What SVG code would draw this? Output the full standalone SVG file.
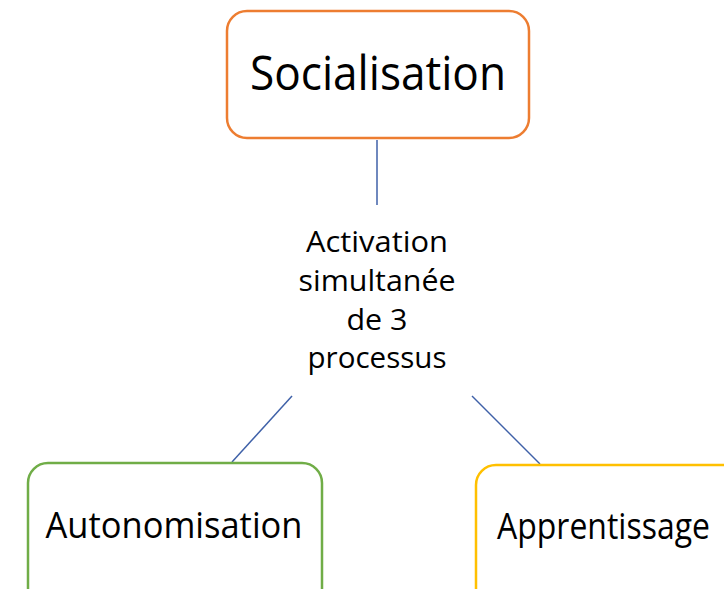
<svg xmlns="http://www.w3.org/2000/svg" width="724" height="589" viewBox="0 0 724 589">
<style>
.box{fill:#fff;stroke-width:2.5}
.t{font-family:"Open Sans","Noto Sans","Liberation Sans",sans-serif;fill:#000;text-anchor:middle}
.m{font-size:29px}
.c{stroke:#3F61A8;stroke-width:1.5;fill:none}
</style>
<rect x="0" y="0" width="724" height="589" fill="#fff"/>
<g id="connectors">
<line class="c" x1="377" y1="140" x2="377" y2="205"/>
<line class="c" x1="292" y1="396" x2="232" y2="462"/>
<line class="c" x1="472" y1="396" x2="540" y2="464"/>
</g>
<g id="socialisation">
<rect class="box" x="227" y="11" width="302" height="127" rx="20" stroke="#ED7D31"/>
<text class="t" x="378" y="90" font-size="48" textLength="256" lengthAdjust="spacingAndGlyphs">Socialisation</text>
</g>
<g id="activation">
<text class="t m" x="377" y="252" textLength="142" lengthAdjust="spacingAndGlyphs">Activation</text>
<text class="t m" x="377" y="291" textLength="157" lengthAdjust="spacingAndGlyphs">simultanée</text>
<text class="t m" x="377" y="330" textLength="61" lengthAdjust="spacingAndGlyphs">de 3</text>
<text class="t m" x="377" y="368" textLength="139" lengthAdjust="spacingAndGlyphs">processus</text>
</g>
<g id="autonomisation">
<rect class="box" x="28" y="463" width="294" height="150" rx="20" stroke="#70AD47"/>
<text class="t" x="174" y="538" font-size="36" textLength="257" lengthAdjust="spacingAndGlyphs">Autonomisation</text>
</g>
<g id="apprentissage">
<rect class="box" x="476" y="465" width="270" height="150" rx="20" stroke="#FFC000"/>
<text class="t" x="603.5" y="539" font-size="36" textLength="213" lengthAdjust="spacingAndGlyphs">Apprentissage</text>
</g>
</svg>
